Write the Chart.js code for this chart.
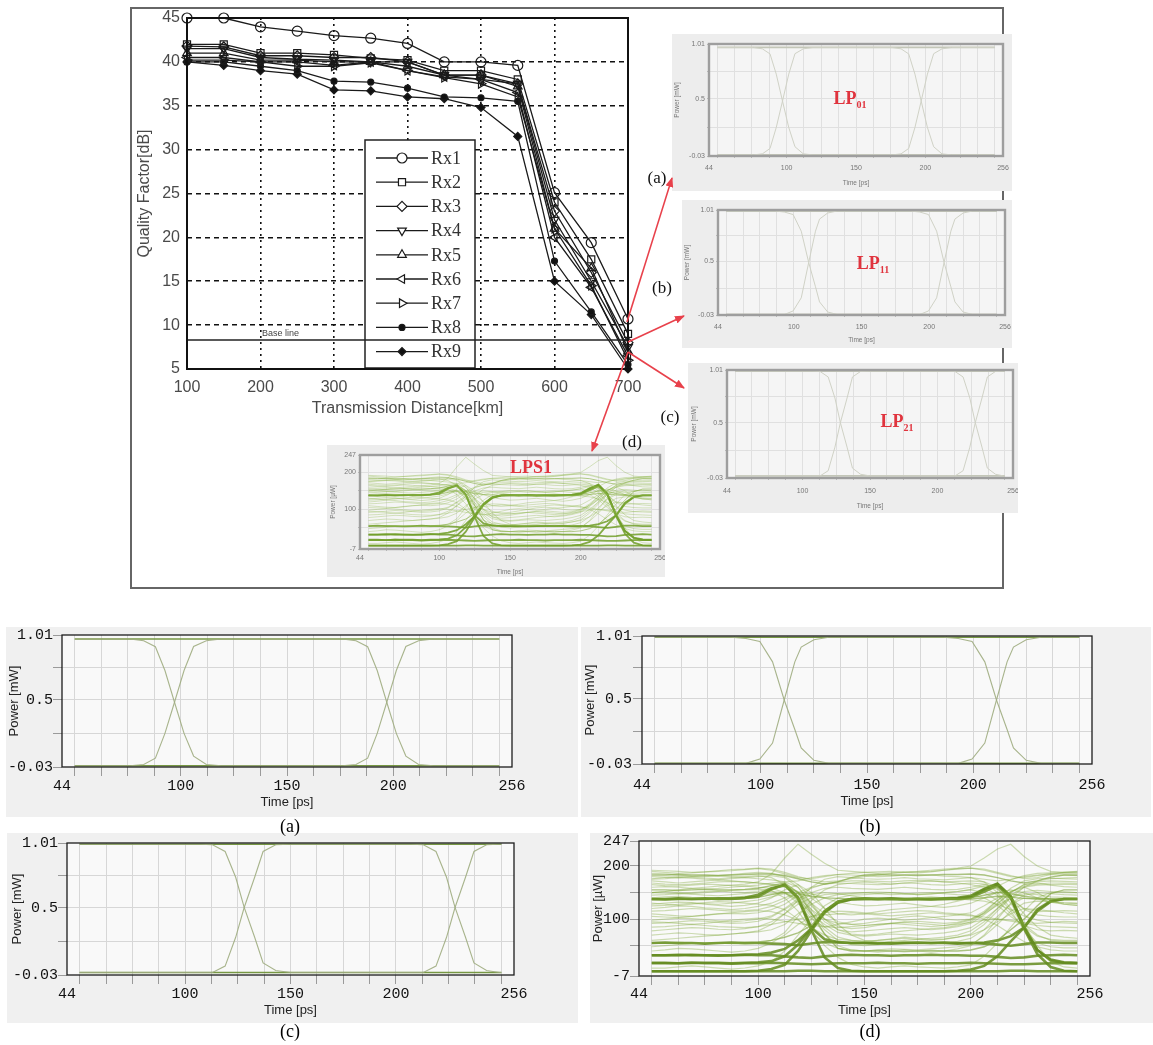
<!DOCTYPE html>
<html>
<head>
<meta charset="utf-8">
<script src="https://cdn.jsdelivr.net/npm/chart.js@4.4.0/dist/chart.umd.min.js"></script>
<style>
  body { margin:0; background:#fff; width:1153px; height:1045px; position:relative; overflow:hidden; }
  #frame { position:absolute; left:130px; top:7px; width:870px; height:578px; border:2px solid #666; }
  .soft { filter: blur(0.55px); }
  .tag { position:absolute; transform:translate(-50%,-50%); font-family:"Liberation Serif", serif; font-size:17px; color:#111; white-space:nowrap; }
  .lp { position:absolute; transform:translate(-50%,-50%); font-family:"Liberation Serif", serif; font-weight:bold; color:#e0343e; font-size:18px; white-space:nowrap; }
  .lp sub { font-size:10px; }
  .cap { position:absolute; transform:translate(-50%,-50%); font-family:"Liberation Serif", serif; font-size:18px; color:#000; }
  svg { position:absolute; left:0; top:0; }
</style>
</head>
<body>
<div id="frame"></div>

<script>
// ---------- quality factor vs distance ----------
const distances = [100, 150, 200, 250, 300, 350, 400, 450, 500, 550, 600, 650, 700];
const rx1 = [45, 45, 44, 43.5, 43, 42.7, 42.1, 40, 40, 39.6, 25.1, 19.4, 10.7];
const rx2 = [42, 42, 41, 41, 40.8, 40.4, 40.2, 39, 39, 38, 24, 17.5, 9];
const rx3 = [41.8, 41.7, 40.7, 40.7, 40.5, 40.5, 40, 38.5, 38.5, 37.5, 23, 16, 8];
const rx4 = [41.5, 41.5, 40.5, 40.3, 40.2, 40, 40, 38.5, 38, 37.5, 22, 15, 7.5];
const rx5 = [41, 41, 40.2, 40.2, 40, 40, 39.5, 38.5, 38.5, 37.2, 21, 16.5, 7];
const rx6 = [40.5, 40.5, 40, 40, 39.6, 40, 39, 38.3, 38, 36.5, 20, 14.3, 6.5];
const rx7 = [40.2, 40.2, 40, 39.5, 39.5, 39.9, 39, 38.2, 37.5, 36, 21, 14.5, 6];
const rx8 = [40, 40, 39.5, 39, 37.8, 37.7, 37, 36, 35.9, 35.5, 17.3, 11.5, 5.5];
const rx9 = [40, 39.6, 39, 38.6, 36.8, 36.7, 36, 35.8, 34.8, 31.5, 15, 11.2, 5];
const rxNames = ['Rx1', 'Rx2', 'Rx3', 'Rx4', 'Rx5', 'Rx6', 'Rx7', 'Rx8', 'Rx9'];
const baselineQ = 8.3;
const baselineText = 'Base line';

// ---------- eye diagrams ----------
const timeTicks = [44, 50, 62.5, 75, 87.5, 100, 112.5, 125, 137.5, 150, 162.5, 175, 187.5, 200, 212.5, 225, 237.5, 250, 256];
const timeLabels = [44, 100, 150, 200, 256];
const mwTicks = [-0.03, 0.235, 0.5, 0.755, 1.01];
const mwLabels = ['-0.03', '', '0.5', '', '1.01'];
const uwTicks = [-7, 50, 100, 150, 200, 247];
const uwLabels = ['-7', '', '100', '', '200', '247'];
const flatTime = [50, 250];

// LP01
const aTime = [50, 76, 82.5, 88, 92.5, 97, 101.5, 106, 112, 119, 176, 182.5, 188, 192.5, 197, 201.5, 206, 212, 219, 250];
const aFallRise = [0.978, 0.978, 0.965, 0.918, 0.73, 0.48, 0.235, 0.056, -0.01, -0.02, -0.02, -0.01, 0.04, 0.235, 0.48, 0.73, 0.92, 0.965, 0.978, 0.978];
const aRiseFall = [-0.02, -0.02, -0.01, 0.04, 0.235, 0.48, 0.73, 0.92, 0.965, 0.978, 0.978, 0.965, 0.918, 0.73, 0.48, 0.235, 0.056, -0.01, -0.02, -0.02];
const aHigh = [0.978, 0.978];
const aLow = [-0.02, -0.02];

// LP11
const bTime = [50, 86, 93, 99.5, 105.5, 111, 116, 119, 125, 132, 186, 193, 199.5, 205.5, 211, 216, 219, 225, 232, 250];
const bFallRise = [1.0, 1.0, 0.99, 0.965, 0.80, 0.49, 0.25, 0.10, 0.0, -0.025, -0.025, -0.025, 0.01, 0.14, 0.49, 0.80, 0.92, 0.98, 1.0, 1.0];
const bRiseFall = [-0.025, -0.025, -0.025, 0.01, 0.14, 0.49, 0.80, 0.92, 0.98, 1.0, 1.0, 0.99, 0.965, 0.80, 0.49, 0.25, 0.10, 0.0, -0.025, -0.025];
const bHigh = [1.0, 1.0];
const bLow = [-0.025, -0.025];

// LP21
const cTime = [50, 107, 113, 119, 124, 128, 133, 137, 143, 150, 207, 213, 219, 224, 228, 233, 237, 243, 249, 250];
const cFallRise = [1.0, 1.0, 0.996, 0.943, 0.74, 0.505, 0.267, 0.065, 0.006, -0.01, -0.01, -0.01, 0.04, 0.267, 0.5, 0.74, 0.943, 0.996, 1.0, 1.0];
const cRiseFall = [-0.01, -0.01, -0.01, 0.04, 0.267, 0.5, 0.74, 0.943, 0.996, 1.0, 1.0, 0.996, 0.943, 0.74, 0.505, 0.267, 0.065, 0.006, -0.01, -0.01];
const cHigh = [1.0, 1.0];
const cLow = [-0.01, -0.01];

// LPS1 (µW), sampled every 6.25 ps
const dTime = [50, 56.25, 62.5, 68.75, 75, 81.25, 87.5, 93.75, 100, 106.25, 112.5, 118.75, 125, 131.25, 137.5, 143.75,
  150, 156.25, 162.5, 168.75, 175, 181.25, 187.5, 193.75, 200, 206.25, 212.5, 218.75, 225, 231.25, 237.5, 243.75, 250];
const dBands = [
  [138,138,139,138,138,139,139,140, 142,156,165,141,84,62,57,55, 55,55,54,55,55,55,56,55, 55,56,60,68,84,115,133,138, 138],
  [18,18,17,18,18,18,17,18, 19,21,30,52,82,115,133,138, 138,138,139,138,138,137,138,138, 142,156,166,142,84,42,24,19, 18],
  [55,56,55,55,54,55,56,55, 55,54,53,51,54,57,56,55, 55,54,55,55,56,55,55,54, 55,54,52,50,53,56,56,55, 55],
  [32,32,33,32,32,31,32,33, 32,32,30,28,27,30,32,33, 32,32,31,32,32,33,32,32, 31,31,29,27,28,31,32,33, 32],
  [17,17,17,18,17,17,16,17, 17,18,17,16,15,16,17,17, 17,18,17,17,16,17,17,17, 18,17,16,15,15,16,17,17, 17],
  [2,2,2,2,2,2,2,2, 2,2,2,3,3,2,2,2, 2,2,2,2,2,2,2,2, 2,2,2,3,3,2,2,2, 2],
  [32,32,32,33,32,32,32,33, 34,37,44,60,82,114,132,138, 139,138,138,137,138,138,139,140, 144,157,167,143,86,42,22,18, 17],
  [138,137,138,138,139,138,138,140, 146,158,164,139,80,28,8,3, 2,2,2,2,2,2,2,3, 5,12,30,58,84,118,134,138, 138],
  [2,2,2,2,2,2,2,2, 3,6,14,40,78,112,131,137, 138,138,138,138,138,138,138,139, 141,152,163,140,82,34,10,3, 2]
];
const dMid = [
  [183,183,184,183,183,182,183,184, 185,185,182,176,170,166,170,178, 183,184,183,183,182,183,184,184, 185,183,178,172,168,172,179,183, 183],
  [155,155,154,155,156,155,155,156, 158,163,168,150,112,72,45,40, 40,41,40,39,40,41,40,40, 42,48,60,80,100,125,148,155, 155],
  [137,138,138,139,138,137,138,139, 141,146,150,148,143,140,139,138, 138,139,138,137,138,139,138,138, 140,145,150,148,143,140,138,138, 138],
  [55,55,56,55,54,55,55,56, 57,60,66,74,88,116,133,138, 138,137,138,138,139,138,138,137, 138,140,143,141,139,138,138,137, 138]
];
const dThin = [
  [190,188,186,187,189,190,191,193, 195,192,185,178,176,180,184,186, 188,189,190,188,187,189,192,195, 196,192,186,180,178,182,186,188, 189],
  [176,178,180,179,177,176,178,180, 182,178,165,140,110,90,75,70, 68,70,72,71,70,72,74,78, 84,100,120,140,160,172,176,177, 178],
  [165,163,162,164,166,165,163,162, 160,158,150,130,100,85,90,95, 100,102,100,98,100,103,105,108, 112,125,140,152,160,164,165,166, 165],
  [120,122,125,124,121,120,118,120, 124,130,140,150,148,140,132,128, 125,126,128,130,127,124,122,125, 130,140,150,155,150,140,132,128, 126],
  [98,100,102,101,99,97,95,97, 100,106,120,138,150,158,160,158, 157,156,158,160,158,156,155,156, 160,165,160,140,110,85,70,66, 64],
  [85,86,88,90,88,86,85,84, 86,90,95,100,105,108,110,112, 110,108,106,108,110,112,110,108, 106,104,100,96,92,88,86,85, 84],
  [150,152,150,148,150,152,154,155, 156,154,140,115,80,50,28,15, 10,8,10,12,10,9,8,10, 14,30,55,85,115,140,150,152, 150],
  [70,72,74,73,71,70,72,74, 76,80,90,110,128,140,146,148, 150,151,150,148,146,147,150,152, 155,150,135,110,85,68,62,60, 60],
  [110,108,106,105,107,110,112,114, 116,114,108,98,84,70,62,60, 58,60,62,64,62,60,62,66, 70,80,95,110,120,118,115,112, 110],
  [180,179,178,180,182,181,180,178, 176,174,170,172,178,182,184,183, 182,180,181,183,184,183,181,180, 178,175,172,175,180,183,184,183, 182],
  [130,128,126,128,131,133,132,130, 128,126,118,100,75,55,45,42, 40,42,44,43,42,44,46,48, 52,68,90,115,130,134,133,131, 130],
  [60,62,64,66,68,70,72,74, 78,90,110,135,160,175,180,178, 176,175,176,178,176,175,174,176, 178,170,150,120,90,70,60,58, 58],
  [150,152,155,158,160,162,164,166, 170,185,215,241,222,205,192,190, 188,186,187,189,190,192,194,196, 200,215,232,241,218,200,190,188, 188],
  [40,42,45,44,42,40,38,40, 45,55,70,90,105,112,115,114, 112,110,112,114,116,115,112,110, 108,100,88,72,58,48,42,40, 40],
  [145,146,148,147,145,144,146,148, 150,152,150,135,105,72,50,42, 40,38,40,42,40,38,40,44, 50,70,100,130,145,150,148,146, 145],
  [95,94,92,90,92,95,98,100, 102,100,96,92,88,86,84,86, 88,90,92,94,92,90,88,90, 94,98,100,98,94,92,94,96, 95],
  [172,170,168,170,172,174,172,170, 168,165,160,150,130,110,95,90, 88,90,92,90,88,86,88,92, 98,112,130,150,165,170,172,171, 170],
  [48,50,52,54,56,55,54,53, 55,60,75,105,135,155,165,168, 170,168,166,168,170,172,170,168, 165,160,145,115,80,55,48,46, 46],
  [125,126,128,130,128,126,124,126, 130,140,155,165,150,120,90,70, 60,56,58,60,62,64,66,70, 78,95,120,145,160,150,135,128, 126],
  [8,8,10,12,10,8,6,8, 12,20,40,70,100,125,140,145, 146,148,150,148,146,148,150,152, 156,162,158,130,90,50,20,10, 8],
  [186,185,183,181,180,182,184,186, 188,186,180,165,140,120,110,108, 110,114,118,120,122,124,128,134, 140,150,162,174,182,186,187,186, 186],
  [160,161,160,158,157,158,160,162, 164,168,170,160,128,95,80,76, 78,80,82,84,82,80,82,86, 92,108,128,150,165,168,164,161, 160],
  [105,104,103,105,108,110,111,110, 112,118,128,145,158,166,170,172, 172,171,170,172,173,172,170,171, 172,170,160,140,118,108,105,104, 104],
  [140,142,143,141,140,139,141,143, 145,148,150,140,118,100,92,90, 92,96,100,104,106,104,100,98, 100,110,126,140,148,146,142,141, 140],
  [175,176,178,177,175,174,176,178, 180,182,178,160,130,100,80,72, 70,72,75,78,80,82,84,88, 95,112,135,158,172,176,177,176, 175],
  [115,116,118,120,119,117,115,116, 118,124,135,150,160,166,168,167, 166,165,166,168,167,165,164,166, 168,166,156,138,120,114,115,116, 115],
  [150,149,148,150,152,153,151,150, 152,158,162,152,118,85,66,60, 58,60,63,66,64,62,63,66, 72,90,115,140,152,154,152,150, 150],
  [78,80,82,84,83,81,80,82, 86,95,110,128,140,146,148,149, 150,148,146,147,149,150,148,146, 145,140,126,105,88,80,78,79, 78],
  [192,191,190,188,189,191,193,194, 196,194,188,180,174,170,172,176, 180,183,186,188,189,190,192,194, 196,194,188,182,176,178,184,188, 190],
  [128,130,132,131,129,128,130,133, 136,142,148,138,110,80,60,52, 50,52,55,58,56,54,55,58, 64,80,105,128,140,138,132,130, 129],
  [92,93,95,97,96,94,92,93, 96,104,118,134,146,150,148,144, 140,138,136,138,140,142,140,138, 136,134,128,118,106,98,94,93, 92],
  [168,166,165,166,168,170,171,170, 168,166,162,150,125,100,86,82, 84,88,92,95,96,94,92,94, 100,115,135,152,162,166,168,168, 167]
];

// ---------- helpers ----------
function addCanvas(x, y, w, h, cls) {
  const c = document.createElement('canvas');
  c.width = w; c.height = h;
  c.style.cssText = `position:absolute;left:${x}px;top:${y}px;width:${w}px;height:${h}px;`;
  if (cls) c.className = cls;
  document.body.appendChild(c);
  return c;
}

// panel background, plot background and a closed frame round the plot
const plotBox = {
  id: 'plotBox',
  beforeDraw(chart, args, opts) {
    const {ctx, chartArea: a} = chart;
    ctx.save();
    if (opts.panel) { ctx.fillStyle = opts.panel; ctx.fillRect(0, 0, chart.width, chart.height); }
    if (opts.fill) { ctx.fillStyle = opts.fill; ctx.fillRect(a.left, a.top, a.right - a.left, a.bottom - a.top); }
    ctx.restore();
  },
  afterDraw(chart, args, opts) {
    if (!opts.stroke) return;
    const {ctx, chartArea: a} = chart;
    ctx.save();
    ctx.strokeStyle = opts.stroke;
    ctx.lineWidth = opts.width || 1;
    ctx.strokeRect(a.left, a.top, a.right - a.left, a.bottom - a.top);
    ctx.restore();
  }
};
Chart.register(plotBox);

// ---------- main chart ----------
const markerStyle = ['circle', 'rect', 'rectRot', 'triangle', 'triangle', 'triangle', 'triangle', 'circle', 'rectRot'];
const markerTurn = [0, 0, 0, 180, 0, 270, 90, 0, 0];
const markerSize = [5, 5, 5, 5, 5, 5, 5, 3, 4];
const rxValues = [rx1, rx2, rx3, rx4, rx5, rx6, rx7, rx8, rx9];

const rxLegend = {
  id: 'rxLegend',
  afterDatasetsDraw(chart) {
    const {ctx, chartArea: a, scales} = chart;
    const bx = a.left + 178, by = a.top + 122, bw = 110, bh = a.bottom - 1 - by;
    ctx.save();
    ctx.fillStyle = '#fff';
    ctx.fillRect(bx, by, bw, bh);
    ctx.strokeStyle = '#222'; ctx.lineWidth = 1.5;
    ctx.strokeRect(bx, by, bw, bh);
    chart.data.datasets.forEach((ds, i) => {
      const y = by + 18 + i * 24.2;
      ctx.strokeStyle = '#1a1a1a'; ctx.lineWidth = 1.3;
      ctx.beginPath(); ctx.moveTo(bx + 11, y); ctx.lineTo(bx + 63, y); ctx.stroke();
      ctx.fillStyle = ds.pointBackgroundColor === 'transparent' ? '#fff' : ds.pointBackgroundColor;
      ctx.strokeStyle = '#1a1a1a'; ctx.lineWidth = 1.2;
      Chart.helpers.drawPoint(ctx, {pointStyle: ds.pointStyle, rotation: ds.pointRotation, radius: ds.pointRadius, borderWidth: 1.2}, bx + 37, y);
      ctx.fillStyle = '#333';
      ctx.font = '18px "Liberation Serif"';
      ctx.textBaseline = 'middle';
      ctx.fillText(ds.label, bx + 66, y + 1);
    });
    // baseline runs across the whole plot, over the legend
    const yb = scales.y.getPixelForValue(baselineQ);
    ctx.strokeStyle = '#222'; ctx.lineWidth = 1.4;
    ctx.beginPath(); ctx.moveTo(a.left, yb); ctx.lineTo(a.right, yb); ctx.stroke();
    ctx.font = '9px "Liberation Sans"';
    ctx.fillStyle = '#444';
    ctx.textBaseline = 'bottom';
    ctx.fillText(baselineText, scales.x.getPixelForValue(202), yb - 2);
    ctx.restore();
  }
};

const mainCanvas = addCanvas(132, 8, 522, 420);
new Chart(mainCanvas, {
  type: 'line',
  data: {
    datasets: rxValues.map((vals, i) => ({
      label: rxNames[i],
      data: distances.map((d, j) => ({x: d, y: vals[j]})),
      borderColor: '#1a1a1a',
      borderWidth: 1.3,
      pointStyle: markerStyle[i],
      pointRotation: markerTurn[i],
      pointRadius: markerSize[i],
      pointBorderWidth: 1.2,
      pointBorderColor: '#1a1a1a',
      pointBackgroundColor: i >= 7 ? '#111' : 'transparent',
      tension: 0,
      clip: false
    }))
  },
  options: {
    responsive: false,
    animation: false,
    events: [],
    layout: {padding: {left: 0, top: 10, right: 26, bottom: 0}},
    plugins: {legend: {display: false}, tooltip: {enabled: false}, plotBox: {stroke: '#111', width: 2}},
    scales: {
      x: {
        type: 'linear', min: 100, max: 700,
        afterFit: s => { s.height = 59; s.paddingLeft = 0; s.paddingRight = 0; },
        ticks: {stepSize: 100, color: '#4a4a4a', padding: 9, font: {family: 'Liberation Sans', size: 16}},
        grid: {color: c => (c.tick && (c.tick.value === 100 || c.tick.value === 700)) ? 'rgba(0,0,0,0)' : '#111', lineWidth: 1.6, drawTicks: false},
        border: {display: false, dash: [2, 4]},
        title: {display: true, text: 'Transmission Distance[km]', color: '#4a4a4a', font: {family: 'Liberation Sans', size: 16}, padding: {top: 0, bottom: 10}}
      },
      y: {
        type: 'linear', min: 5, max: 45,
        afterFit: s => { s.width = 55; s.paddingTop = 0; s.paddingBottom = 0; },
        ticks: {stepSize: 5, color: '#4a4a4a', padding: 7, font: {family: 'Liberation Sans', size: 16}},
        grid: {color: c => (c.tick && (c.tick.value === 5 || c.tick.value === 45)) ? 'rgba(0,0,0,0)' : '#111', lineWidth: 1.6, drawTicks: false},
        border: {display: false, dash: [5, 4]},
        title: {display: true, text: 'Quality Factor[dB]', color: '#4a4a4a', font: {family: 'Liberation Sans', size: 16}, padding: {top: 3, bottom: 0}}
      }
    }
  },
  plugins: [rxLegend]
});

// ---------- eye diagram builder ----------
const bigLook = {
  panel: '#f0f0f0', plotBg: '#f9f9f9', grid: '#d7d7d7', frame: '#1c1c1c', frameWidth: 1.3,
  tickFamily: 'Liberation Mono', tickSize: 15, tickColor: '#111', tickMark: '#9a9a9a', tickLen: 9,
  titleFamily: 'Liberation Sans', titleSize: 13, titleColor: '#222'
};
const smallLook = {
  panel: '#ededed', plotBg: '#f5f5f5', grid: '#e0e0e0', frame: '#9e9e9e', frameWidth: 2.4,
  tickFamily: 'Liberation Sans', tickSize: 7, tickColor: '#777', tickMark: '#bbb', tickLen: 2,
  titleFamily: 'Liberation Sans', titleSize: 6.5, titleColor: '#777'
};

function eyeChart(g, axis, traces, look, cls) {
  const canvas = addCanvas(g.x, g.y, g.w, g.h, cls);
  const tickLh = look.tickSize * 1.2, titleLh = look.titleSize * 1.2;
  const xAxisH = g.h - (g.pb - g.y);
  const edgeX = v => v === 44 || v === 256;
  const edgeY = v => v === axis.yTicks[0] || v === axis.yTicks[axis.yTicks.length - 1];
  return new Chart(canvas, {
    type: 'line',
    data: {
      datasets: traces.map(tr => ({
        data: tr.t.map((t, i) => ({x: t, y: tr.v[i]})),
        borderColor: tr.color, borderWidth: tr.width,
        pointRadius: 0, tension: 0, fill: false
      }))
    },
    options: {
      responsive: false,
      animation: false,
      events: [],
      layout: {padding: {left: 0, top: g.pt - g.y, right: g.x + g.w - g.pr, bottom: 0}},
      plugins: {legend: {display: false}, tooltip: {enabled: false},
        plotBox: {panel: look.panel, fill: look.plotBg, stroke: look.frame, width: look.frameWidth}},
      scales: {
        x: {
          type: 'linear', min: 44, max: 256,
          afterBuildTicks: s => { s.ticks = timeTicks.map(v => ({value: v})); },
          afterFit: s => { s.height = xAxisH; s.paddingLeft = 0; s.paddingRight = 0; },
          ticks: {autoSkip: false, maxRotation: 0, padding: Math.max(0, g.labelGap - look.tickLen - tickLh / 2),
            font: {family: look.tickFamily, size: look.tickSize}, color: look.tickColor,
            callback: v => timeLabels.includes(v) ? String(v) : ''},
          grid: {color: c => (c.tick && edgeX(c.tick.value)) ? 'rgba(0,0,0,0)' : look.grid,
            tickColor: c => (c.tick && edgeX(c.tick.value)) ? 'rgba(0,0,0,0)' : look.tickMark,
            tickLength: look.tickLen, lineWidth: 1},
          border: {display: false},
          title: {display: true, text: 'Time [ps]', color: look.titleColor, font: {family: look.titleFamily, size: look.titleSize},
            padding: {top: 0, bottom: Math.max(0, xAxisH - g.titleGap - titleLh / 2)}}
        },
        y: {
          type: 'linear', min: axis.yTicks[0], max: axis.yTicks[axis.yTicks.length - 1],
          afterBuildTicks: s => { s.ticks = axis.yTicks.map(v => ({value: v})); },
          afterFit: s => { s.width = g.pl - g.x; s.paddingTop = 0; s.paddingBottom = 0; },
          ticks: {autoSkip: false, padding: Math.max(0, g.yLabelGap - look.tickLen),
            font: {family: look.tickFamily, size: look.tickSize}, color: look.tickColor,
            callback: (v, i) => axis.yLabels[i]},
          grid: {color: c => (c.tick && edgeY(c.tick.value)) ? 'rgba(0,0,0,0)' : look.grid,
            tickColor: look.tickMark, tickLength: look.tickLen, lineWidth: 1},
          border: {display: false},
          title: {display: true, text: axis.title, color: look.titleColor, font: {family: look.titleFamily, size: look.titleSize},
            padding: {top: Math.max(0, g.yTitleX - g.x - titleLh / 2), bottom: 0}}
        }
      }
    }
  });
}

const mwAxis = {yTicks: mwTicks, yLabels: mwLabels, title: 'Power [mW]'};
const uwAxis = {yTicks: uwTicks, yLabels: uwLabels, title: 'Power [µW]'};

function twoLevel(time, fallRise, riseFall, high, low, flatCol, edgeCol, flatW, edgeW) {
  return [
    {t: time, v: fallRise, color: edgeCol, width: edgeW},
    {t: time, v: riseFall, color: edgeCol, width: edgeW},
    {t: flatTime, v: high, color: flatCol, width: flatW},
    {t: flatTime, v: low, color: flatCol, width: flatW}
  ];
}
function multiLevel(bandCol, midCol, thinCol, bandW, midW, thinW) {
  return [
    ...dThin.map(v => ({t: dTime, v, color: thinCol, width: thinW})),
    ...dMid.map(v => ({t: dTime, v, color: midCol, width: midW})),
    ...dBands.map(v => ({t: dTime, v, color: bandCol, width: bandW}))
  ];
}

// bottom row of full-size eye diagrams
const bigFlat = 'rgba(112,146,58,0.95)', bigEdge = 'rgba(158,172,128,0.9)';
eyeChart({x: 6, y: 627, w: 572, h: 190, pl: 62, pt: 635, pr: 512, pb: 767, labelGap: 19, titleGap: 35, yLabelGap: 7, yTitleX: 14},
  mwAxis, twoLevel(aTime, aFallRise, aRiseFall, aHigh, aLow, bigFlat, bigEdge, 1.6, 1.1), bigLook);
eyeChart({x: 581, y: 627, w: 570, h: 190, pl: 642, pt: 636, pr: 1092, pb: 764, labelGap: 21, titleGap: 37, yLabelGap: 10, yTitleX: 590},
  mwAxis, twoLevel(bTime, bFallRise, bRiseFall, bHigh, bLow, bigFlat, bigEdge, 1.6, 1.1), bigLook);
eyeChart({x: 7, y: 833, w: 571, h: 190, pl: 67, pt: 843, pr: 514, pb: 975, labelGap: 19, titleGap: 35, yLabelGap: 7, yTitleX: 17},
  mwAxis, twoLevel(cTime, cFallRise, cRiseFall, cHigh, cLow, bigFlat, bigEdge, 1.6, 1.1), bigLook);
eyeChart({x: 590, y: 833, w: 563, h: 190, pl: 639, pt: 841, pr: 1090, pb: 976, labelGap: 18, titleGap: 34, yLabelGap: 6, yTitleX: 598},
  uwAxis, multiLevel('rgba(100,140,32,0.85)', 'rgba(118,158,48,0.6)', 'rgba(128,168,58,0.38)', 2.6, 1.4, 1.2), bigLook);

// small copies inside the framed figure
const smallFlat = '#c3c6b8', smallEdge = '#d0d2c6';
eyeChart({x: 672, y: 34, w: 340, h: 157, pl: 709, pt: 44, pr: 1003, pb: 156, labelGap: 12, titleGap: 27, yLabelGap: 4, yTitleX: 677},
  mwAxis, twoLevel(aTime, aFallRise, aRiseFall, aHigh, aLow, smallFlat, smallEdge, 1.8, 1), smallLook, 'soft');
eyeChart({x: 682, y: 200, w: 330, h: 148, pl: 718, pt: 210, pr: 1005, pb: 315, labelGap: 12, titleGap: 25, yLabelGap: 4, yTitleX: 687},
  mwAxis, twoLevel(bTime, bFallRise, bRiseFall, bHigh, bLow, smallFlat, smallEdge, 1.8, 1), smallLook, 'soft');
eyeChart({x: 688, y: 363, w: 330, h: 150, pl: 727, pt: 370, pr: 1013, pb: 478, labelGap: 13, titleGap: 28, yLabelGap: 4, yTitleX: 694},
  mwAxis, twoLevel(cTime, cFallRise, cRiseFall, cHigh, cLow, smallFlat, smallEdge, 1.8, 1), smallLook, 'soft');
eyeChart({x: 327, y: 445, w: 338, h: 132, pl: 360, pt: 455, pr: 660, pb: 549, labelGap: 9, titleGap: 23, yLabelGap: 4, yTitleX: 333},
  uwAxis, multiLevel('rgba(112,158,40,0.85)', 'rgba(130,172,60,0.6)', 'rgba(140,182,74,0.38)', 1.8, 1, 0.9), smallLook, 'soft');
</script>

<svg width="1153" height="1045">
  <defs>
    <marker id="head" markerWidth="10" markerHeight="8" refX="9" refY="4" orient="auto" markerUnits="userSpaceOnUse">
      <path d="M0,0 L10,4 L0,8 z" fill="#e8414b"/>
    </marker>
  </defs>
  <line x1="627" y1="322" x2="672" y2="178" stroke="#e8414b" stroke-width="1.6" marker-end="url(#head)"/>
  <line x1="628" y1="342" x2="684" y2="316" stroke="#e8414b" stroke-width="1.6" marker-end="url(#head)"/>
  <line x1="628" y1="352" x2="684" y2="388" stroke="#e8414b" stroke-width="1.6" marker-end="url(#head)"/>
  <line x1="628" y1="352" x2="592" y2="451" stroke="#e8414b" stroke-width="1.6" marker-end="url(#head)"/>
</svg>

<div class="tag" style="left:657px;top:178px">(a)</div>
<div class="tag" style="left:662px;top:288px">(b)</div>
<div class="tag" style="left:670px;top:417px">(c)</div>
<div class="tag" style="left:632px;top:442px">(d)</div>

<div class="lp" style="left:850px;top:99px">LP<sub>01</sub></div>
<div class="lp" style="left:873px;top:264px">LP<sub>11</sub></div>
<div class="lp" style="left:897px;top:422px">LP<sub>21</sub></div>
<div class="lp" style="left:531px;top:467px">LPS1</div>

<div class="cap" style="left:290px;top:826px">(a)</div>
<div class="cap" style="left:870px;top:826px">(b)</div>
<div class="cap" style="left:290px;top:1031px">(c)</div>
<div class="cap" style="left:870px;top:1031px">(d)</div>
</body>
</html>
